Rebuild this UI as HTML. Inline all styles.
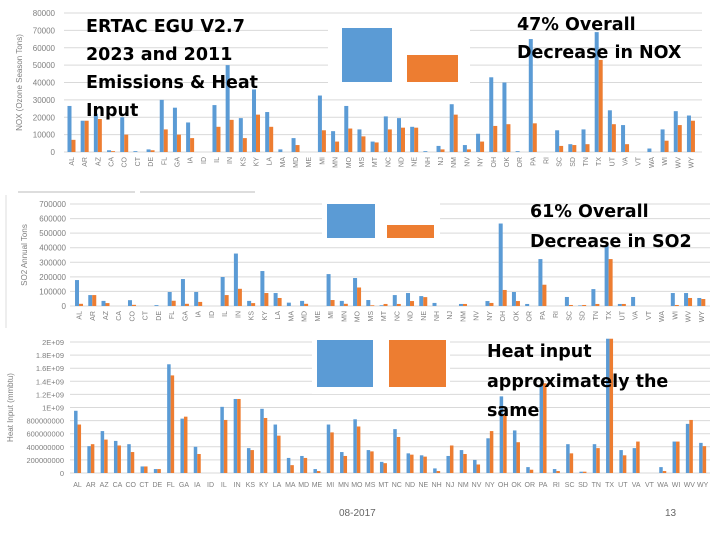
<!DOCTYPE html>
<html><head><meta charset="utf-8"><style>
body{margin:0;background:#fff;}
#wrap{position:relative;width:720px;height:540px;overflow:hidden;font-family:"Liberation Sans",sans-serif;}
.t{position:absolute;font-weight:bold;color:#000;font-size:17.5px;line-height:28px;font-family:"DejaVu Sans","Liberation Sans",sans-serif;}
</style></head><body>
<div id="wrap">
<svg id="svg" width="720" height="540" style="position:absolute;left:0;top:0"></svg>
<div class="t" style="left:86px;top:13px;">ERTAC EGU V2.7<br>2023 and 2011<br>Emissions &amp; Heat<br>Input</div>
<div class="t" style="left:517px;top:11px;">47% Overall<br>Decrease in NOX</div>
<div class="t" style="left:530px;top:197px;line-height:30px">61% Overall<br>Decrease in SO2</div>
<div class="t" style="left:487px;top:338px;line-height:29.5px">Heat input<br>approximately the<br>same</div>
<div style="position:absolute;left:339px;top:508px;font-size:10px;color:#666">08-2017</div>
<div style="position:absolute;left:665px;top:508px;font-size:10px;color:#666">13</div>
</div>
<script>
const states=["AL","AR","AZ","CA","CO","CT","DE","FL","GA","IA","ID","IL","IN","KS","KY","LA","MA","MD","ME","MI","MN","MO","MS","MT","NC","ND","NE","NH","NJ","NM","NV","NY","OH","OK","OR","PA","RI","SC","SD","TN","TX","UT","VA","VT","WA","WI","WV","WY"];
const nox2011=[26500,18000,22000,1000,20000,500,1500,30000,25500,17000,0,27000,50000,19500,36000,23000,1500,8000,0,32500,12000,26500,13000,6000,20500,19500,14500,500,3500,27500,4000,10500,43000,40000,500,65000,0,12500,4500,13000,69000,24000,15500,0,2000,13000,23500,21000];
const nox2023=[7000,18000,19000,500,10000,0,1000,13000,10000,8000,0,14500,18500,8000,21500,14500,0,4000,0,12500,6000,13500,9000,5500,13000,14000,14000,0,1500,21500,1500,6000,15000,16000,0,16500,0,3500,4000,4500,53000,16000,4500,0,0,6500,15500,18000];
const noxTicks=[0,10000,20000,30000,40000,50000,60000,70000,80000];
const so22011=[178000,75000,35000,0,40000,0,6000,96000,185000,96000,0,199000,360000,35000,240000,89000,23000,35000,0,219000,35000,192000,41000,5000,75000,89000,68000,21000,0,14000,0,34000,566000,96000,14000,322000,0,62000,4000,116000,418000,14000,62000,0,0,89000,89000,55000];
const so22023=[15000,75000,20000,0,8000,0,0,36000,15000,28000,0,75000,118000,20000,89000,55000,0,15000,0,41000,15000,127000,5000,14000,14000,34000,61000,0,0,14000,0,21000,110000,34000,0,146000,0,7000,7000,14000,322000,14000,0,0,0,7000,55000,48000];
const so2Ticks=[0,100000,200000,300000,400000,500000,600000,700000];
const heat2011=[9.5,4.1,6.4,4.9,4.4,1.0,0.6,16.6,8.3,4.0,0,10.1,11.3,3.8,9.8,7.4,2.3,2.6,0.6,7.4,3.2,8.2,3.5,1.7,6.7,3.0,2.7,0.7,2.6,3.5,2.0,5.3,11.7,6.5,0.9,13.5,0.6,4.4,0.2,4.4,20.5,3.5,3.8,0,0.9,4.8,7.5,4.6].map(v=>v*1e8);
const heat2023=[7.4,4.4,5.1,4.2,3.2,1.0,0.6,14.9,8.6,2.9,0,8.1,11.3,3.5,8.4,5.7,1.2,2.3,0.3,6.2,2.6,7.1,3.3,1.5,5.5,2.8,2.5,0.3,4.2,2.9,1.3,6.4,8.9,4.7,0.5,13.7,0.3,3.0,0.2,3.8,20.5,2.7,4.8,0,0.3,4.8,8.1,4.1].map(v=>v*1e8);
const heatTicks=[0,2e8,4e8,6e8,8e8,1e9,1.2e9,1.4e9,1.6e9,1.8e9,2e9];
const heatTickLabels=["0","200000000","400000000","600000000","800000000","1E+09","1.2E+09","1.4E+09","1.6E+09","1.8E+09","2E+09"];

const NS="http://www.w3.org/2000/svg";
const svg=document.getElementById('svg');
function mk(tag,attrs,parent){const e=document.createElementNS(NS,tag);for(const k in attrs)e.setAttribute(k,attrs[k]);(parent||svg).appendChild(e);return e;}

function chart(o){
  const g=mk('g',{});
  
  
  const y=v=>o.y0-(v/o.max)*(o.y0-o.yTop);
  const xc=i=>o.x0+o.band*(i+0.5);
  o.ticks.forEach((t,i)=>{
    const ln=mk('line',{x1:o.gx1,x2:o.gx2,y1:y(t),y2:y(t),stroke:'#d9d9d9','stroke-width':1},g);
    
    
    const tx=mk('text',{x:o.tickX,y:y(t)+3,'font-size':o.tickFs,fill:'#7f7f7f','text-anchor':'end'},g);
    tx.textContent=o.tickLabels?o.tickLabels[i]:String(t);
    
    
  });
  states.forEach((s,i)=>{
    const c=xc(i);
    const hb=Math.max(0,y(0)-y(o.a[i])), ho=Math.max(0,y(0)-y(o.b[i]));
    const rb=mk('rect',{x:c-o.bw,y:y(0)-hb,width:o.bw,height:hb,fill:'#5b9bd5'},g);
    
    
    const ro=mk('rect',{x:c,y:y(0)-ho,width:o.bw,height:ho,fill:'#ed7d31'},g);
    
    
    let lt;
    if(o.rot){lt=mk('text',{x:0,y:0,'font-size':7,fill:'#7f7f7f','text-anchor':'end',transform:`translate(${c+2.5},${o.y0+5}) rotate(-90)`},g);}
    else{lt=mk('text',{x:c,y:o.y0+14,'font-size':7,fill:'#7f7f7f','text-anchor':'middle'},g);}
    lt.textContent=s;
    
    
  });
  const yl=mk('text',{x:0,y:0,'font-size':o.ylFs||8,fill:'#7f7f7f','text-anchor':'middle',transform:`translate(${o.ylx},${(o.y0+o.yTop)/2}) rotate(-90)`},g);
  yl.textContent=o.ylabel;
  
  
}
const s1=mk('line',{x1:18,x2:135,y1:192,y2:192,stroke:'#bbb'});
const s2=mk('line',{x1:140,x2:255,y1:192,y2:192,stroke:'#bbb'});
const s3=mk('line',{x1:6,x2:6,y1:195,y2:328,stroke:'#ddd'});

chart({name:'nox-chart',a:nox2011,b:nox2023,ticks:noxTicks,max:80000,y0:152,yTop:13,x0:64.9,band:13.18,bw:4,gx1:64,gx2:702,tickX:55,tickFs:8,rot:true,ylabel:'NOX (Ozone Season Tons)',ylx:22});
chart({name:'so2-chart',a:so22011,b:so22023,ticks:so2Ticks,max:700000,y0:306,yTop:204,x0:72.4,band:13.24,bw:4,gx1:70,gx2:710,tickX:66,tickFs:8,rot:true,ylabel:'SO2 Annual Tons',ylx:27});
chart({name:'heat-chart',a:heat2011,b:heat2023,ticks:heatTicks,tickLabels:heatTickLabels,max:2e9,y0:473,yTop:342,x0:70.9,band:13.3,bw:3.5,gx1:70,gx2:710,tickX:64,tickFs:7.5,rot:false,ylabel:'Heat Input (mmbtu)',ylx:13});

function box(x,y,w,h,fill,name){const r=mk('rect',{x:x,y:y,width:w,height:h,fill:fill});}
box(328,24,142,66,'#fff','nox-inset-bg');
box(342,28,50,54,'#5b9bd5','nox-total-2011');
box(407,55,51,27,'#ed7d31','nox-total-2023');
box(322,198,118,46,'#fff','so2-inset-bg');
box(327,204,48,34,'#5b9bd5','so2-total-2011');
box(387,225,47,13,'#ed7d31','so2-total-2023');
box(312,336,138,58,'#fff','heat-inset-bg');
box(317,340,56,47,'#5b9bd5','heat-total-2011');
box(389,340,57,47,'#ed7d31','heat-total-2023');
</script>
</body></html>
